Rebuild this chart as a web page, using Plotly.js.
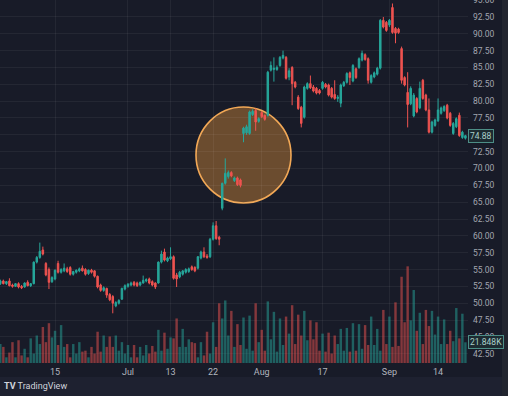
<!DOCTYPE html>
<html>
<head>
<meta charset="utf-8">
<script src="https://cdn.plot.ly/plotly-3.0.1.min.js"></script>
<style>
html,body{margin:0;padding:0;background:#181b28;}
#chart{width:508px;height:396px;}
</style>
</head>
<body>
<div id="chart"></div>
<script>
// ---- Data (4-hour bars, two sessions per trading day) ----
const tradingDays = [
'2020-06-02','2020-06-03','2020-06-04','2020-06-05','2020-06-08','2020-06-09','2020-06-10','2020-06-11','2020-06-12',
'2020-06-15','2020-06-16','2020-06-17','2020-06-18','2020-06-19','2020-06-22','2020-06-23','2020-06-24','2020-06-25','2020-06-26','2020-06-29','2020-06-30',
'2020-07-01','2020-07-02','2020-07-06','2020-07-07','2020-07-08','2020-07-09','2020-07-10','2020-07-13','2020-07-14','2020-07-15','2020-07-16','2020-07-17',
'2020-07-20','2020-07-21','2020-07-22','2020-07-23','2020-07-24','2020-07-27','2020-07-28','2020-07-29','2020-07-30','2020-07-31',
'2020-08-03','2020-08-04','2020-08-05','2020-08-06','2020-08-07','2020-08-10','2020-08-11','2020-08-12','2020-08-13','2020-08-14',
'2020-08-17','2020-08-18','2020-08-19','2020-08-20','2020-08-21','2020-08-24','2020-08-25','2020-08-26','2020-08-27','2020-08-28','2020-08-31',
'2020-09-01','2020-09-02','2020-09-03','2020-09-04','2020-09-08','2020-09-09','2020-09-10','2020-09-11',
'2020-09-14','2020-09-15','2020-09-16','2020-09-17','2020-09-18'];
const sessions = ['09:30','13:30'];

const open = [
52.9,53.3,52.9,53.3,52.7,52.5,52.9,52.5,52.4,53.1,
52.6,52.9,56.1,56.8,57.9,55.9,55.0,53.2,53.6,55.9,
54.6,54.8,55.1,55.3,54.3,54.6,54.8,55.2,55.0,54.4,
54.9,54.8,54.0,52.7,51.9,52.2,51.3,51.0,49.6,50.0,
50.6,52.1,52.5,52.7,53.1,53.0,52.7,53.0,53.3,53.6,
53.2,53.0,53.0,56.1,57.6,56.3,56.6,56.9,54.2,53.9,
54.3,54.6,54.7,55.4,55.3,55.2,56.7,57.6,57.0,56.9,
59.5,61.5,59.8,64.1,67.8,68.8,69.4,68.2,68.6,68.3,
75.2,75.3,75.2,78.0,78.6,77.0,78.3,77.9,77.9,84.6,
84.7,84.7,85.3,86.4,86.5,83.6,85.0,82.8,80.6,79.1,
77.6,81.9,82.6,82.1,81.9,81.6,81.9,82.5,82.4,81.9,
81.0,80.4,79.7,82.3,82.8,84.2,83.0,84.8,85.0,86.1,
86.9,86.3,82.8,83.6,84.0,84.9,92.0,91.7,91.3,93.9,
90.8,90.7,87.8,83.5,81.3,79.6,77.8,80.4,79.0,83.1,
80.9,78.7,75.4,76.4,77.1,78.2,78.6,79.4,78.2,75.2,
76.2,77.9,74.6,74.5];
const high = [
53.5,53.5,53.3,53.7,52.9,53.0,53.1,52.7,53.1,53.4,
53.0,56.2,57.0,59.0,58.4,56.1,55.3,54.0,55.0,56.3,
55.2,55.9,55.4,55.5,54.8,55.0,55.3,55.6,55.2,55.0,
55.1,54.9,54.1,52.9,52.5,52.3,51.5,51.2,50.3,50.6,
52.3,52.8,53.0,53.2,53.3,53.2,53.2,54.1,53.7,53.8,
53.4,53.1,56.2,57.8,58.1,56.9,58.3,57.1,54.5,54.8,
54.9,55.2,55.3,55.6,55.5,57.0,57.8,58.3,57.3,59.7,
62.0,62.2,60.0,67.9,71.5,69.7,69.6,68.8,68.8,68.5,
76.2,76.5,78.6,78.8,78.9,77.6,78.5,78.0,84.5,85.9,
86.5,85.3,86.7,87.5,86.7,84.9,85.2,83.0,80.9,79.3,
82.3,82.8,83.8,82.4,82.1,81.8,83.0,82.7,82.6,82.1,
83.1,80.9,82.6,83.0,84.3,84.4,85.5,85.0,86.5,87.5,
87.1,86.5,84.0,84.4,85.1,92.2,92.5,91.9,92.2,94.5,
91.0,90.9,88.1,83.7,84.3,82.2,81.2,80.6,82.9,83.3,
81.1,80.4,77.1,77.4,80.4,79.2,79.4,79.6,78.4,76.9,
77.6,78.3,75.6,75.0];
const low = [
52.7,52.8,52.7,52.5,52.3,52.4,52.2,52.1,52.3,52.5,
52.4,52.8,55.9,56.6,57.1,54.0,52.1,53.0,53.4,54.4,
54.4,54.6,54.5,54.1,54.1,54.4,54.6,54.7,54.1,54.2,
54.4,53.8,52.2,51.7,51.7,50.8,50.3,48.5,49.4,49.8,
50.5,51.9,52.3,52.5,52.5,52.4,52.5,52.9,53.1,52.8,
52.5,52.1,52.9,55.9,56.2,56.1,56.4,53.5,52.4,53.7,
54.1,54.4,54.5,54.8,54.6,55.0,56.5,56.7,56.6,56.7,
59.3,59.4,58.6,63.8,67.6,68.5,68.7,68.0,67.4,67.2,
73.9,75.0,75.0,77.8,75.6,76.8,77.5,77.1,77.7,84.4,
82.9,84.5,85.1,86.2,83.2,83.1,79.4,81.9,78.7,76.1,
77.4,81.7,81.8,81.3,81.0,81.0,81.7,81.9,80.7,80.4,
80.2,79.9,79.1,82.1,82.6,82.4,82.8,83.3,84.8,85.9,
86.0,82.6,82.6,83.4,83.8,84.7,90.8,90.3,91.0,90.0,
88.6,90.0,82.6,82.2,76.1,79.4,77.6,78.2,78.8,80.2,
78.5,75.2,75.2,76.2,76.9,78.0,78.4,77.3,76.2,75.0,
76.0,74.7,74.4,74.3];
const close = [
53.3,52.9,53.2,52.6,52.5,52.9,52.4,52.3,53.0,52.6,
52.9,56.1,56.8,57.7,57.3,54.2,53.1,53.8,54.9,54.6,
55.0,55.2,54.7,54.3,54.7,54.9,55.1,54.8,54.3,54.9,
54.6,54.0,52.4,51.9,52.3,51.2,50.5,50.0,50.1,50.4,
52.2,52.6,52.8,53.0,52.7,52.6,53.1,53.4,53.5,53.0,
52.7,52.4,56.1,57.3,56.4,56.7,56.9,53.7,53.6,54.6,
54.8,55.0,55.1,55.0,54.8,56.9,57.6,56.9,56.8,59.5,
61.5,59.6,59.5,67.8,69.3,69.4,68.9,68.6,67.6,67.5,
76.0,76.2,78.4,78.5,76.9,77.4,77.7,77.3,84.3,85.3,
84.9,85.0,86.5,86.8,83.4,84.5,82.6,82.1,78.9,76.7,
82.1,82.6,82.0,81.5,81.2,81.2,82.8,82.1,80.9,80.6,
80.4,80.6,82.4,82.8,84.1,83.5,85.3,83.5,86.3,87.1,
86.2,83.1,83.8,84.2,84.9,92.0,91.0,90.5,92.0,90.2,
90.1,90.2,83.1,82.4,79.5,81.9,80.9,78.4,81.9,80.4,
78.7,75.4,76.9,77.2,78.7,79.0,79.2,77.5,76.4,76.7,
77.4,74.9,75.4,74.88];
// volume in thousands
const volumeK = [
20,17,6,11,22,6,24,8,15,6,
26,10,29,20,38,22,42,27,34,19,
40,17,20,6,20,10,22,12,13,6,
17,10,33,12,29,17,28,17,29,13,
22,10,19,6,19,6,17,8,19,10,
18,12,35,13,32,15,27,26,47,17,
36,17,25,22,21,6,22,8,33,10,
43,17,63,47,66,29,55,17,41,19,
48,15,50,13,63,22,35,13,65,25,
54,12,47,19,49,31,61,20,51,29,
55,24,45,25,43,13,31,12,32,10,
29,20,36,13,37,12,42,13,41,15,
40,19,49,19,36,13,56,20,49,17,
64,18,91,43,102,45,77,34,53,20,
56,39,55,30,49,20,46,20,34,23,
58,26,52,21.848];

const tickDays = ['2020-06-15','2020-07-01','2020-07-13','2020-07-22','2020-08-03','2020-08-17','2020-09-01','2020-09-14'];
const tickLabels = ['15','Jul','13','22','Aug','17','Sep','14'];
const priceTicks = [42.5,45,47.5,50,52.5,55,57.5,60,62.5,65,67.5,70,72.5,75,77.5,80,82.5,85,87.5,90,92.5,95];

// ---- Build ----
const times = [];
tradingDays.forEach(d => sessions.forEach(s => times.push(d + ' ' + s)));
const tickVals = tickDays.map(d => d + ' ' + sessions[0]);

const UP = '#26a69a', DOWN = '#ef5350';
const volColors = close.map((c, i) => c >= open[i] ? 'rgba(38,166,154,0.5)' : 'rgba(239,83,80,0.5)');

const n = times.length;
const lastClose = close[n - 1];
const lastVol = volumeK[n - 1];
// the last-price tag covers the tick label next to it (as on TradingView)
const priceTickText = priceTicks.map(v => Math.abs(v - lastClose) < 0.9 ? '' : v.toFixed(2));

const volTrace = {
  type: 'bar', x: times, y: volumeK, xaxis: 'x', yaxis: 'y',
  marker: {color: volColors, line: {width: 0}}, hoverinfo: 'skip', showlegend: false
};
const candleTrace = {
  type: 'candlestick', x: times, open: open, high: high, low: low, close: close,
  xaxis: 'x', yaxis: 'y2',
  increasing: {line: {color: UP, width: 1}, fillcolor: UP},
  decreasing: {line: {color: DOWN, width: 1}, fillcolor: DOWN},
  whiskerwidth: 0, hoverinfo: 'skip', showlegend: false
};

const bg = '#181b28';
const grid = 'rgba(255,255,255,0.055)';
const txt = '#b2b5be';

const layout = {
  width: 508, height: 396,
  margin: {l: 0, r: 40, t: 0, b: 33},
  paper_bgcolor: bg, plot_bgcolor: bg,
  bargap: 0.2,
  font: {family: 'Roboto, "DejaVu Sans", sans-serif', color: txt, size: 9},
  xaxis: {
    type: 'category', categoryorder: 'array', categoryarray: times,
    range: [-0.1, 153.85],
    tickmode: 'array', tickvals: tickVals, ticktext: tickLabels,
    showgrid: true, gridcolor: grid, gridwidth: 1,
    zeroline: false, showline: false, ticks: '',
    tickfont: {size: 9, color: txt}, ticklabelstandoff: 2,
    rangeslider: {visible: false}, fixedrange: true
  },
  yaxis: {
    range: [0, 383], visible: false, showgrid: false, zeroline: false, fixedrange: true
  },
  yaxis2: {
    overlaying: 'y', side: 'right',
    range: [41.12, 95.02],
    tickmode: 'array', tickvals: priceTicks, ticktext: priceTickText,
    showgrid: true, gridcolor: grid, gridwidth: 1,
    zeroline: false, showline: false, ticks: '',
    tickfont: {size: 8.5, color: '#a3a6af'}, ticklabelstandoff: 4,
    ticklabeloverflow: 'allow',
    fixedrange: true
  },
  shapes: [
    // highlight circle around the gap
    {type: 'circle', xref: 'paper', yref: 'paper',
     x0: 0.4188, x1: 0.6218, y0: 0.4408, y1: 0.7052,
     fillcolor: 'rgba(245,158,60,0.38)', line: {color: '#f2a856', width: 1.6}, layer: 'below'},
    // bottom logo strip
    {type: 'rect', xref: 'paper', yref: 'paper', x0: -0.01, x1: 1.1, y0: -0.0386, y1: -0.1,
     fillcolor: '#1e2130', line: {width: 0}, layer: 'below'},
    // right frame strip
    {type: 'rect', xref: 'paper', yref: 'paper', x0: 1.0726, x1: 1.1, y0: -0.1, y1: 1.01,
     fillcolor: '#22252f', line: {width: 0}, layer: 'below'}
  ],
  annotations: [
    {xref: 'paper', yref: 'y2', x: 1, y: lastClose, xanchor: 'left', yanchor: 'middle',
     text: lastClose.toFixed(2), showarrow: false,
     font: {size: 8.5, color: '#a9cfc9'}, bgcolor: '#1d2b31', bordercolor: '#4d8e86',
     borderwidth: 1, borderpad: 1},
    {xref: 'paper', yref: 'y', x: 1, y: lastVol, xanchor: 'left', yanchor: 'middle',
     text: lastVol.toFixed(3) + 'K', showarrow: false,
     font: {size: 8.5, color: '#a9cfc9'}, bgcolor: '#1d2b31', bordercolor: '#4d8e86',
     borderwidth: 1, borderpad: 1},
    {xref: 'paper', yref: 'paper', x: 0.004, y: -0.0634, xanchor: 'left', yanchor: 'middle',
     text: '<b>TV</b> TradingView', showarrow: false,
     font: {size: 9, color: '#d1d4dc'}}
  ]
};

Plotly.newPlot('chart', [volTrace, candleTrace], layout, {staticPlot: true, displayModeBar: false});
</script>
</body>
</html>
